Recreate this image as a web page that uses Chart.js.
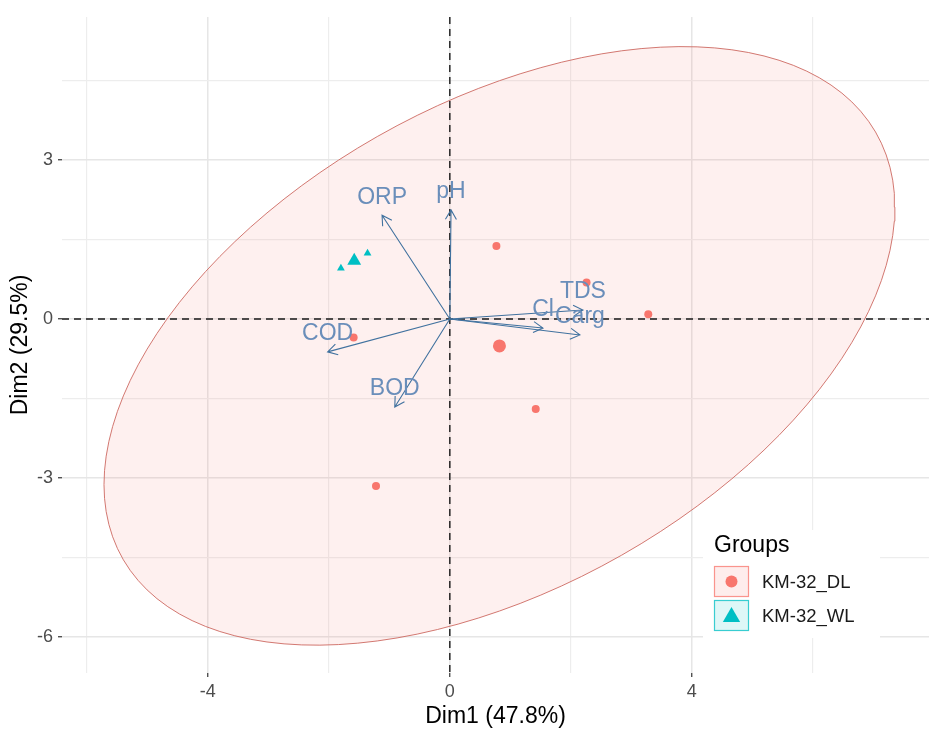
<!DOCTYPE html>
<html>
<head>
<meta charset="utf-8">
<script src="https://cdn.jsdelivr.net/npm/chart.js@4/dist/chart.umd.min.js"></script>
<style>
html,body{margin:0;padding:0;background:#ffffff;overflow:hidden;}
#wrap{width:929px;height:733px;position:relative;overflow:hidden;}
</style>
</head>
<body>
<div id="wrap"><canvas id="c" width="937" height="733"></canvas></div>
<script>
// ---------------- data ----------------
const groups = ['KM-32_DL', 'KM-32_WL'];
const groupColors = ['#F8766D', '#00BFC4'];
const dlX = [0.77, 2.26, 3.28, 1.42, -1.59, -1.22];
const dlY = [1.38, 0.69, 0.09, -1.70, -0.35, -3.15];
const wlX = [-1.80, -1.36];
const wlY = [0.96, 1.24];
const varNames = ['ORP', 'pH', 'COD', 'BOD', 'TDS', 'Cl', 'Carg'];
const varX = [-1.12, 0.02, -2.02, -0.91, 2.20, 1.54, 2.15];
const varY = [1.96, 2.06, -0.62, -1.66, 0.17, -0.17, -0.30];
const xMajorTicks = [-4, 0, 4];
const xMinorTicks = [-6, -2, 2, 6];
const yMajorTicks = [-6, -3, 0, 3];
const yMinorTicks = [-4.5, -1.5, 1.5, 4.5];
const axisTitles = ['Dim1 (47.8%)', 'Dim2 (29.5%)'];
const legendTitle = 'Groups';
const ellipseLevel = 0.95;

// ---------------- helpers ----------------
const FONT = "'Liberation Sans', Arial, Helvetica, sans-serif";
Chart.defaults.font.family = FONT;

function meanOf(a) { return a.reduce((s, v) => s + v, 0) / a.length; }
function toPts(xs, ys) { return xs.map((v, i) => ({ x: v, y: ys[i] })); }

// normal-theory ellipse as in ggplot2::stat_ellipse(type = "norm")
function normEllipse(xs, ys, level, segs) {
  const n = xs.length, mx = meanOf(xs), my = meanOf(ys);
  let sxx = 0, syy = 0, sxy = 0;
  for (let i = 0; i < n; i++) {
    const dx = xs[i] - mx, dy = ys[i] - my;
    sxx += dx * dx; syy += dy * dy; sxy += dx * dy;
  }
  sxx /= (n - 1); syy /= (n - 1); sxy /= (n - 1);
  const dfd = n - 1;
  const fq = (dfd / 2) * (Math.pow(1 - level, -2 / dfd) - 1); // qf(level, 2, dfd)
  const r = Math.sqrt(2 * fq);
  const a = Math.sqrt(sxx), b = sxy / a, c = Math.sqrt(syy - b * b);
  const out = [];
  for (let k = 0; k <= segs; k++) {
    const t = 2 * Math.PI * k / segs;
    const ct = Math.cos(t), st = Math.sin(t);
    out.push({ x: mx + r * ct * a, y: my + r * (ct * b + st * c) });
  }
  return out;
}

const xAllTicks = [...xMinorTicks, ...xMajorTicks].sort((p, q) => p - q);
const yAllTicks = [...yMinorTicks, ...yMajorTicks].sort((p, q) => p - q);

function drawTri(ctx, x, y, r) {
  ctx.beginPath();
  for (let k = 0; k < 3; k++) {
    const ang = -Math.PI / 2 + k * 2 * Math.PI / 3;
    const px = x + r * Math.cos(ang), py = y + r * Math.sin(ang);
    if (k === 0) ctx.moveTo(px, py); else ctx.lineTo(px, py);
  }
  ctx.closePath();
  ctx.fill();
}

// ---------------- plugins ----------------
const biplotPlugin = {
  id: 'biplot',
  afterDatasetsDraw(chart) {
    const { ctx, chartArea: a, scales: { x, y } } = chart;
    ctx.save();
    ctx.beginPath();
    ctx.rect(a.left, a.top, a.right - a.left, a.bottom - a.top);
    ctx.clip();
    const x0 = x.getPixelForValue(0), y0 = y.getPixelForValue(0);
    // dashed zero lines
    ctx.setLineDash([7, 5]);
    ctx.lineWidth = 1.4;
    ctx.strokeStyle = '#1a1a1a';
    ctx.beginPath();
    ctx.moveTo(a.left, y0); ctx.lineTo(a.right, y0);
    ctx.moveTo(x0, a.top); ctx.lineTo(x0, a.bottom);
    ctx.stroke();
    ctx.setLineDash([]);
    // variable arrows
    ctx.strokeStyle = '#41729F';
    ctx.lineWidth = 1.1;
    for (let i = 0; i < varNames.length; i++) {
      const tx = x.getPixelForValue(varX[i]), ty = y.getPixelForValue(varY[i]);
      const ang = Math.atan2(ty - y0, tx - x0);
      const hl = 11, ha = Math.PI / 6;
      ctx.beginPath();
      ctx.moveTo(x0, y0); ctx.lineTo(tx, ty);
      ctx.moveTo(tx - hl * Math.cos(ang - ha), ty - hl * Math.sin(ang - ha));
      ctx.lineTo(tx, ty);
      ctx.lineTo(tx - hl * Math.cos(ang + ha), ty - hl * Math.sin(ang + ha));
      ctx.stroke();
    }
    ctx.fillStyle = '#6A8EBA';
    ctx.font = '23px ' + FONT;
    ctx.textAlign = 'center';
    ctx.textBaseline = 'middle';
    for (let i = 0; i < varNames.length; i++) {
      const tx = x.getPixelForValue(varX[i]), ty = y.getPixelForValue(varY[i]);
      ctx.fillText(varNames[i], tx, ty - 18);
    }
    ctx.restore();
  },
  afterDraw(chart) {
    const ctx = chart.ctx;
    ctx.save();
    ctx.fillStyle = '#ffffff';
    ctx.fillRect(703, 530, 177, 108);
    ctx.fillStyle = '#000000';
    ctx.font = '23px ' + FONT;
    ctx.textAlign = 'left';
    ctx.textBaseline = 'alphabetic';
    ctx.fillText(legendTitle, 714, 552);
    for (let i = 0; i < groups.length; i++) {
      const bx = 714, by = 566 + i * 34, bw = 35, bh = 31;
      const col = groupColors[i];
      ctx.globalAlpha = 0.13;
      ctx.fillStyle = col;
      ctx.fillRect(bx, by, bw, bh);
      ctx.globalAlpha = 0.75;
      ctx.strokeStyle = col;
      ctx.lineWidth = 1.2;
      ctx.strokeRect(bx + 0.5, by + 0.5, bw - 1, bh - 1);
      ctx.globalAlpha = 1;
      ctx.fillStyle = col;
      const cx = bx + bw / 2, cy = by + bh / 2;
      if (i === 0) {
        ctx.beginPath(); ctx.arc(cx, cy, 6, 0, Math.PI * 2); ctx.fill();
      } else {
        drawTri(ctx, cx, cy + 1.5, 10);
      }
      ctx.fillStyle = '#1a1a1a';
      ctx.font = '18.5px ' + FONT;
      ctx.textBaseline = 'middle';
      ctx.fillText(groups[i], 762, cy + 1);
    }
    ctx.restore();
  }
};

// ---------------- chart ----------------
const isMajorX = v => xMajorTicks.includes(v);
const isMajorY = v => yMajorTicks.includes(v);

new Chart(document.getElementById('c'), {
  type: 'scatter',
  data: {
    datasets: [
      {
        label: 'ellipse ' + groups[0],
        data: normEllipse(dlX, dlY, ellipseLevel, 120),
        showLine: true,
        fill: 'shape',
        tension: 0,
        pointRadius: 0,
        borderColor: 'rgba(205,105,98,0.9)',
        borderWidth: 1,
        backgroundColor: 'rgba(248,118,109,0.11)',
        order: 10
      },
      {
        label: groups[0],
        data: toPts(dlX, dlY),
        pointStyle: 'circle',
        pointRadius: 4,
        borderWidth: 0,
        backgroundColor: groupColors[0],
        order: 2
      },
      {
        label: groups[1],
        data: toPts(wlX, wlY),
        pointStyle: 'triangle',
        pointRadius: 4.5,
        borderWidth: 0,
        backgroundColor: groupColors[1],
        order: 2
      },
      {
        label: groups[0] + ' mean',
        data: [{ x: meanOf(dlX), y: meanOf(dlY) }],
        pointStyle: 'circle',
        pointRadius: 6.5,
        borderWidth: 0,
        backgroundColor: groupColors[0],
        order: 1
      },
      {
        label: groups[1] + ' mean',
        data: [{ x: meanOf(wlX), y: meanOf(wlY) }],
        pointStyle: 'triangle',
        pointRadius: 8,
        borderWidth: 0,
        backgroundColor: groupColors[1],
        order: 1
      }
    ]
  },
  options: {
    responsive: false,
    animation: false,
    layout: { padding: { top: 17, right: 0, left: 0, bottom: 0 } },
    plugins: { legend: { display: false }, tooltip: { enabled: false } },
    scales: {
      x: {
        type: 'linear',
        min: -6.41, max: 7.92,
        afterBuildTicks: s => { s.ticks = xAllTicks.map(v => ({ value: v })); },
        afterFit: s => { s.height = 60; s.paddingLeft = 0; s.paddingRight = 0; },
        border: { display: false },
        grid: {
          color: c => (c.tick && isMajorX(c.tick.value)) ? '#E6E6E6' : '#EDEDED',
          lineWidth: c => (c.tick && isMajorX(c.tick.value)) ? 1.5 : 1.2,
          tickColor: c => (c.tick && isMajorX(c.tick.value)) ? '#333333' : 'rgba(0,0,0,0)',
          tickLength: 4,
          tickWidth: 1.2
        },
        ticks: {
          autoSkip: false, maxRotation: 0,
          callback: v => isMajorX(v) ? String(v) : '',
          color: '#4D4D4D',
          font: { size: 18 },
          padding: 4
        },
        title: {
          display: true, text: axisTitles[0], color: '#000000',
          font: { size: 23 }, padding: { top: 0, bottom: 3 }
        }
      },
      y: {
        type: 'linear',
        min: -6.68, max: 5.70,
        afterBuildTicks: s => { s.ticks = yAllTicks.map(v => ({ value: v })); },
        afterFit: s => { s.width = 62; s.paddingTop = 0; s.paddingBottom = 0; },
        border: { display: false },
        grid: {
          color: c => (c.tick && isMajorY(c.tick.value)) ? '#E6E6E6' : '#EDEDED',
          lineWidth: c => (c.tick && isMajorY(c.tick.value)) ? 1.5 : 1.2,
          tickColor: c => (c.tick && isMajorY(c.tick.value)) ? '#333333' : 'rgba(0,0,0,0)',
          tickLength: 4,
          tickWidth: 1.2
        },
        ticks: {
          autoSkip: false,
          callback: v => isMajorY(v) ? String(v) : '',
          color: '#4D4D4D',
          font: { size: 18 },
          padding: 5
        },
        title: {
          display: true, text: axisTitles[1], color: '#000000',
          font: { size: 23 }, padding: { top: 7, bottom: 0 }
        }
      }
    }
  },
  plugins: [biplotPlugin]
});
</script>
</body>
</html>
